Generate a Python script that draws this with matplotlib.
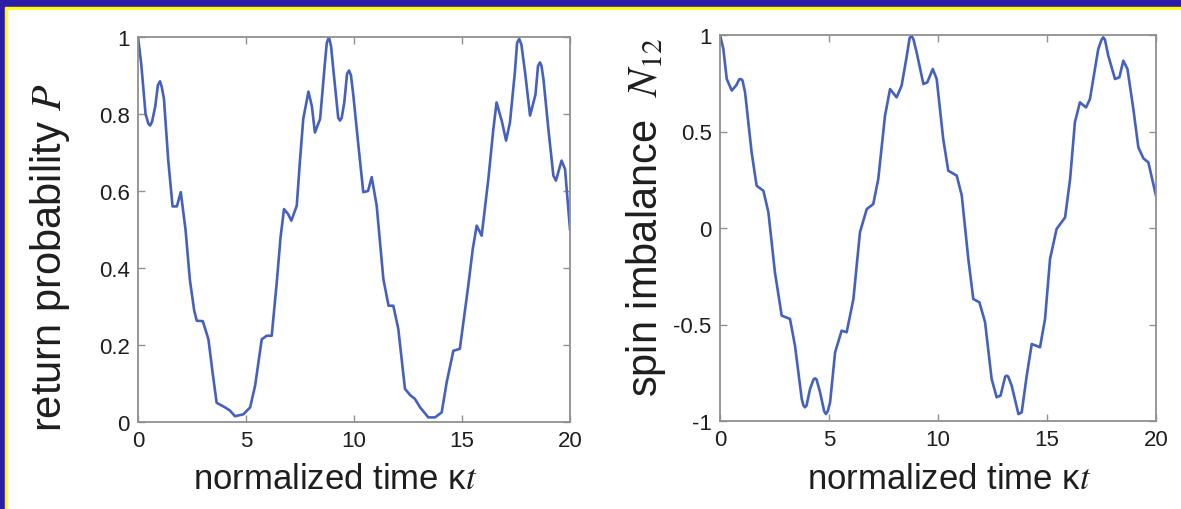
import matplotlib.pyplot as plt
from matplotlib.patches import Rectangle

# values
t_p = [0, 0.15, 0.35, 0.48, 0.56, 0.65, 0.8, 0.92, 1.02, 1.1, 1.2, 1.4, 1.6, 1.8, 1.98, 2.2, 2.4, 2.6,
       2.72, 3.0, 3.26, 3.45, 3.64, 4.03, 4.25, 4.49, 4.88, 5.19, 5.42, 5.73, 5.96, 6.19, 6.42, 6.6,
       6.76, 6.95, 7.1, 7.35, 7.5, 7.65, 7.89, 8.05, 8.19, 8.43, 8.65, 8.74, 8.84, 8.94, 9.04, 9.27,
       9.35, 9.43, 9.55, 9.68, 9.77, 9.86, 9.97, 10.2, 10.43, 10.65, 10.82, 11.05, 11.36, 11.6, 11.82,
       12.05, 12.36, 12.6, 12.82, 13.06, 13.44, 13.75, 14.06, 14.29, 14.6, 14.9, 15.29, 15.5, 15.68,
       15.91, 16.22, 16.45, 16.6, 16.85, 17.04, 17.22, 17.45, 17.55, 17.65, 17.75, 17.92, 18.15, 18.4,
       18.52, 18.61, 18.68, 18.77, 19.0, 19.23, 19.35, 19.61, 19.77, 20.0]
P = [1.0, 0.93, 0.8, 0.775, 0.77, 0.78, 0.82, 0.875, 0.885, 0.87, 0.84, 0.68, 0.56, 0.56, 0.597, 0.5, 0.37, 0.29,
     0.263, 0.262, 0.215, 0.13, 0.05, 0.038, 0.03, 0.015, 0.02, 0.038, 0.094, 0.215, 0.224, 0.224, 0.36, 0.48,
     0.553, 0.54, 0.523, 0.562, 0.68, 0.787, 0.858, 0.82, 0.752, 0.787, 0.93, 0.985, 1.0, 0.975, 0.917, 0.79,
     0.783, 0.79, 0.83, 0.905, 0.913, 0.9, 0.848, 0.72, 0.597, 0.6, 0.636, 0.562, 0.371, 0.302, 0.302,
     0.242, 0.086, 0.07, 0.06, 0.038, 0.012, 0.012, 0.025, 0.103, 0.185, 0.19, 0.354, 0.45, 0.51,
     0.484, 0.631, 0.76, 0.83, 0.78, 0.731, 0.778, 0.91, 0.985, 0.995, 0.98, 0.908, 0.796, 0.85,
     0.925, 0.934, 0.925, 0.891, 0.76, 0.64, 0.627, 0.679, 0.657, 0.5]

t_n = [0, 0.15, 0.31, 0.54, 0.75, 0.88, 0.95, 1.03, 1.15, 1.45, 1.68, 1.99, 2.22, 2.52, 2.83, 3.21, 3.44,
       3.75, 3.83, 3.9, 3.97, 4.13, 4.29, 4.36, 4.43, 4.59, 4.78, 4.86, 4.94, 5.05, 5.28, 5.58, 5.81, 6.12,
       6.42, 6.73, 7.03, 7.26, 7.57, 7.8, 8.1, 8.33, 8.55, 8.7, 8.79, 8.88, 9.02, 9.33, 9.51, 9.76, 9.94,
       10.24, 10.47, 10.86, 11.09, 11.39, 11.62, 11.9, 12.16, 12.46, 12.69, 12.87, 13.08, 13.15, 13.22,
       13.38, 13.69, 13.84, 14.07, 14.3, 14.68, 14.91, 15.14, 15.44, 15.83, 16.06, 16.28, 16.51, 16.79,
       16.97, 17.35, 17.5, 17.58, 17.66, 17.81, 18.12, 18.32, 18.5, 18.69, 18.96, 19.19, 19.42, 19.65, 20.0]
N12 = [1.0, 0.93, 0.772, 0.712, 0.74, 0.77, 0.772, 0.765, 0.703, 0.392, 0.219, 0.193, 0.081, -0.23, -0.454,
       -0.471, -0.61, -0.886, -0.92, -0.929, -0.92, -0.834, -0.785, -0.779, -0.785, -0.851, -0.95, -0.964,
       -0.95, -0.903, -0.644, -0.532, -0.54, -0.368, -0.022, 0.098, 0.124, 0.254, 0.582, 0.72, 0.677, 0.737,
       0.88, 0.985, 0.997, 0.975, 0.91, 0.746, 0.755, 0.824, 0.772, 0.461, 0.297, 0.271, 0.168, -0.16,
       -0.368, -0.385, -0.489, -0.782, -0.877, -0.868, -0.77, -0.765, -0.77, -0.817, -0.964, -0.955,
       -0.765, -0.601, -0.618, -0.471, -0.16, -0.005, 0.055, 0.254, 0.548, 0.651, 0.625, 0.668, 0.927,
       0.975, 0.988, 0.975, 0.893, 0.772, 0.781, 0.867, 0.824, 0.617, 0.418, 0.361, 0.34, 0.167]

xticks = [0, 5, 10, 15, 20]
line_color = '#4560bd'
text_color = '#1e1e1e'
plt.rcParams['mathtext.fontset'] = 'stix'
plt.rcParams['font.family'] = ['Liberation Sans', 'DejaVu Sans']

fig = plt.figure(figsize=(11.81, 5.10), dpi=100)
W, H = 1181, 510
# slide background: blue, yellow border, white inside
fig.patches.append(Rectangle((0, 0), 1, 1, transform=fig.transFigure, color='#2c1ca8', zorder=-3))
fig.patches.append(Rectangle((5 / W, 0), 1, (H - 8) / H, transform=fig.transFigure, color='#ffff00', zorder=-2))
fig.patches.append(Rectangle((8 / W, 0), 1, (H - 11) / H, transform=fig.transFigure, color='white', zorder=-1))


def style(ax):
    for s in ax.spines.values():
        s.set_color('#909090')
        s.set_linewidth(1.3)
    ax.tick_params(direction='in', top=True, right=True, length=5, width=1, color='#909090',
                   labelsize=16, labelcolor=text_color, pad=6)
    ax.set_facecolor('white')


ax1 = fig.add_axes([138 / W, 1 - 423 / H, (570 - 138) / W, (423 - 38) / H])
ax1.plot(t_p, P, color=line_color, lw=1.9, solid_joinstyle='round')
ax1.set_xlim(0, 20)
ax1.set_ylim(0, 1)
ax1.set_xticks(xticks)
ax1.set_yticks([0, 0.2, 0.4, 0.6, 0.8, 1])
ax1.set_yticklabels(['0', '0.2', '0.4', '0.6', '0.8', '1'])
style(ax1)
ax1.set_xlabel('normalized time κ$t$', fontsize=25, color=text_color)
ax1.set_ylabel('return probability $P$', fontsize=30, color=text_color)
ax1.xaxis.set_label_coords(0.456, -0.104)
ax1.yaxis.set_label_coords(-0.152, 0.43)

ax2 = fig.add_axes([720 / W, 1 - 422 / H, (1156 - 720) / W, (422 - 36) / H])
ax2.plot(t_n, N12, color=line_color, lw=1.9, solid_joinstyle='round')
ax2.set_xlim(0, 20)
ax2.set_ylim(-1, 1)
ax2.set_xticks(xticks)
ax2.set_yticks([-1, -0.5, 0, 0.5, 1])
ax2.set_yticklabels(['-1', '-0.5', '0', '0.5', '1'])
style(ax2)
ax2.set_xlabel('normalized time κ$t$', fontsize=25, color=text_color)
ax2.set_ylabel('spin imbalance  $N_{12}$', fontsize=30, color=text_color)
ax2.xaxis.set_label_coords(0.525, -0.106)
ax2.yaxis.set_label_coords(-0.12, 0.53)

fig.savefig('out.png', dpi=100)
